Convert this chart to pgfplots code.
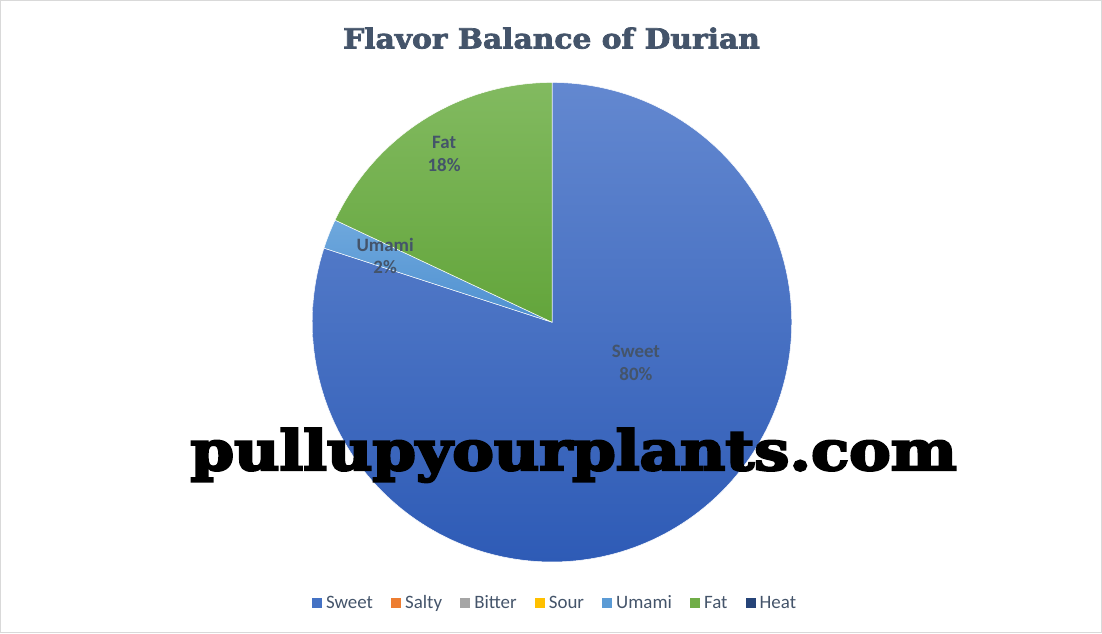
\documentclass[border=0pt]{standalone}
\usepackage{pgfplots}
\pgfplotsset{compat=1.18}
\usepackage{pgfplotstable}
\usepackage{fontspec}
\setmainfont{Carlito}
\newfontfamily\heavyserif{DejaVu Serif}[UprightFont=* Bold, FakeBold=4]
\newfontfamily\titleserif{DejaVu Serif}[UprightFont=* Bold, FakeBold=2.5]

\definecolor{txt}{HTML}{44546A}
\definecolor{sweet}{HTML}{4472C4}
\definecolor{sweetT}{HTML}{6388D0}
\definecolor{sweetB}{HTML}{2E5BB6}
\definecolor{salty}{HTML}{ED7D31}
\definecolor{bitter}{HTML}{A5A5A5}
\definecolor{sour}{HTML}{FFC000}
\definecolor{umami}{HTML}{5B9BD5}
\definecolor{umamiT}{HTML}{6EA8DD}
\definecolor{umamiB}{HTML}{4F90D0}
\definecolor{fat}{HTML}{70AD47}
\definecolor{fatT}{HTML}{82BA60}
\definecolor{fatB}{HTML}{63A53B}
\definecolor{heat}{HTML}{264478}

% share of each flavour, in percent
\pgfplotstableread{
flavor share
Sweet  80
Salty  0
Bitter 0
Sour   0
Umami  2
Fat    18
Heat   0
}\flavors

\pgfplotstablegetelem{0}{share}\of\flavors \edef\sSweet{\pgfplotsretval}
\pgfplotstablegetelem{4}{share}\of\flavors \edef\sUmami{\pgfplotsretval}
\pgfplotstablegetelem{5}{share}\of\flavors \edef\sFat{\pgfplotsretval}

% slices run clockwise from 12 o'clock
\pgfmathsetmacro\aA{90}
\pgfmathsetmacro\aB{\aA-3.6*\sSweet}
\pgfmathsetmacro\aC{\aB-3.6*\sUmami}
\pgfmathsetmacro\aD{\aC-3.6*\sFat}
\def\cx{552}
\def\cy{311}
\def\r{240}

\begin{document}
\begin{tikzpicture}
\begin{axis}[
    width=1102bp, height=633bp, scale only axis,
    xmin=0, xmax=1102, ymin=0, ymax=633,
    axis line style={draw=black!15, line width=1bp},
    xtick=\empty, ytick=\empty,
    clip=false,
    legend columns=-1,
    legend image code/.code={\fill[#1, draw=none] (0bp,-5bp) rectangle (10bp,5bp); \path (12bp,0bp);},
    legend style={at={(axis cs:555,30)}, anchor=center, draw=none, fill=none,
        font=\fontsize{19}{21}\selectfont, text=txt,
        /tikz/every even column/.append style={column sep=16bp}},
]
\addplot[forget plot, draw=white, line width=0.5bp, top color=sweetT, bottom color=sweetB,
    domain=\aB:\aA, samples=181] ({\cx+\r*cos(x)},{\cy+\r*sin(x)}) -- (axis cs:\cx,\cy) -- cycle;
\addplot[forget plot, draw=white, line width=0.5bp, top color=umamiT, bottom color=umamiB,
    domain=\aC:\aB, samples=10] ({\cx+\r*cos(x)},{\cy+\r*sin(x)}) -- (axis cs:\cx,\cy) -- cycle;
\addplot[forget plot, draw=white, line width=0.5bp, top color=fatT, bottom color=fatB,
    domain=\aD:\aC, samples=60] ({\cx+\r*cos(x)},{\cy+\r*sin(x)}) -- (axis cs:\cx,\cy) -- cycle;

\addlegendimage{fill=sweet}\addlegendentry{Sweet}
\addlegendimage{fill=salty}\addlegendentry{Salty}
\addlegendimage{fill=bitter}\addlegendentry{Bitter}
\addlegendimage{fill=sour}\addlegendentry{Sour}
\addlegendimage{fill=umami}\addlegendentry{Umami}
\addlegendimage{fill=fat}\addlegendentry{Fat}
\addlegendimage{fill=heat}\addlegendentry{Heat}

% data labels
\begin{scope}[every node/.style={font=\fontsize{19}{21}\selectfont\bfseries, text=txt, anchor=base, inner sep=0pt}]
\node at (axis cs:636,276) {Sweet};
\node at (axis cs:636,253) {80\%};
\node at (axis cs:444,485) {Fat};
\node at (axis cs:444,462) {18\%};
\node at (axis cs:385,382) {Umami};
\node at (axis cs:385,360) {2\%};
\end{scope}

% title
\node[anchor=base, inner sep=0pt, text=txt] at (axis cs:551.5,585)
    {\resizebox{417bp}{21bp}{\titleserif Flavor Balance of Durian}};
% watermark
\node[anchor=base west, inner sep=0pt] at (axis cs:190,163)
    {\resizebox{767bp}{42bp}{\heavyserif pullupyourplants.com}};
\end{axis}
\end{tikzpicture}
\end{document}
